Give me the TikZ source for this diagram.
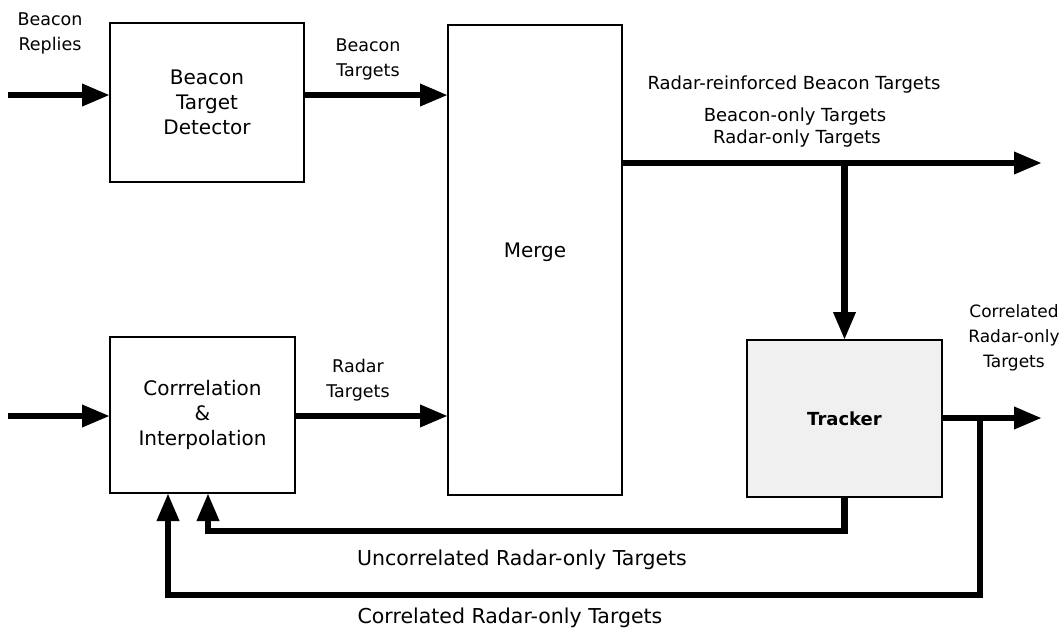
\documentclass[tikz,border=0pt]{standalone}
\usepackage{fontspec}
\setmainfont{DejaVu Sans}
\usetikzlibrary{arrows.meta}

\begin{document}
\begin{tikzpicture}[x = 1pt, y = -1pt]
\tikzstyle{BlockStyle}=[draw, line width = 2.5pt,
                        inner sep = 0pt, outer sep = 0pt,
                        align = center,
                        font = \fontsize{20}{25}\selectfont]
\tikzstyle{FlowStyle}=[line width = 6.5pt,
                       -{Triangle[length = 28pt, width = 21pt]}]
\tikzstyle{LoopStyle}=[line width = 6.5pt]
\tikzstyle{LabelStyle}=[align = center, inner sep = 0pt,
                        font = \fontsize{17.5}{25}\selectfont]
\tikzstyle{NoteStyle}=[align = center, inner sep = 0pt,
                       font = \fontsize{20.5}{25}\selectfont]
\useasboundingbox (0,0) rectangle (1064,640);
\node[BlockStyle, minimum width = 194pt, minimum height = 159pt] (btd) at (207,102.5) {Beacon\\Target\\Detector};
\node[BlockStyle, minimum width = 185pt, minimum height = 156pt] (corr) at (202.5,415) {Corrrelation\\\&\\Interpolation};
\node[BlockStyle, minimum width = 174pt, minimum height = 470pt] (merge) at (535,260) {};
\node[NoteStyle, font = \fontsize{20}{25}\selectfont] (mergetext) at (535,252) {Merge};
\node[BlockStyle, fill = black!6, minimum width = 195pt, minimum height = 157pt,
      font = \fontsize{18}{22}\selectfont\bfseries] (tracker) at (844.5,418.5) {Tracker};
\coordinate (inA) at (8,95);
\coordinate (inB) at (8,416);
\coordinate (mout) at (622,163);
\coordinate (outA) at (1042,163);
\coordinate (outB) at (1042,418);
\coordinate (tapA) at (844.5,163);
\coordinate (tapB) at (980,418);
\coordinate (loopU) at (208,531);
\coordinate (loopC) at (168,595);
\node[LabelStyle] (lbeaconreplies) at (50,33) {Beacon\\Replies};
\node[LabelStyle] (lbeacontargets) at (368,59) {Beacon\\Targets};
\node[LabelStyle] (lradartargets) at (358,380) {Radar\\Targets};
\node[LabelStyle, font = \fontsize{18}{25}\selectfont] (lreinforced) at (794,85) {Radar-reinforced Beacon Targets};
\node[LabelStyle, font = \fontsize{18}{25}\selectfont] (lbeaconly) at (795,117) {Beacon-only Targets};
\node[LabelStyle, font = \fontsize{18}{25}\selectfont] (lradaronly) at (797,139) {Radar-only Targets};
\node[LabelStyle, font = \fontsize{17}{25}\selectfont] (lcorrright) at (1014,338) {Correlated\\Radar-only\\Targets};
\node[NoteStyle] (luncorr) at (522,560) {Uncorrelated Radar-only Targets};
\node[NoteStyle] (lcorr) at (510,618) {Correlated Radar-only Targets};
\draw[FlowStyle] (inA) -- (inA -| btd.west);
\draw[FlowStyle] (btd.east |- inA) -- (merge.west |- inA);
\draw[FlowStyle] (inB) -- (inB -| corr.west);
\draw[FlowStyle] (corr.east |- inB) -- (merge.west |- inB);
\draw[FlowStyle] (mout) -- (outA);
\draw[FlowStyle] (tapA) -- (tracker.north);
\draw[FlowStyle] (tracker.east |- outB) -- (outB);
\draw[LoopStyle, -{Triangle[length = 28pt, width = 21pt]}] (tracker.south) |- (loopU) -- (loopU |- corr.south);
\draw[LoopStyle, -{Triangle[length = 28pt, width = 21pt]}] (tapB) |- (loopC) -- (loopC |- corr.south);
\end{tikzpicture}
\end{document}
